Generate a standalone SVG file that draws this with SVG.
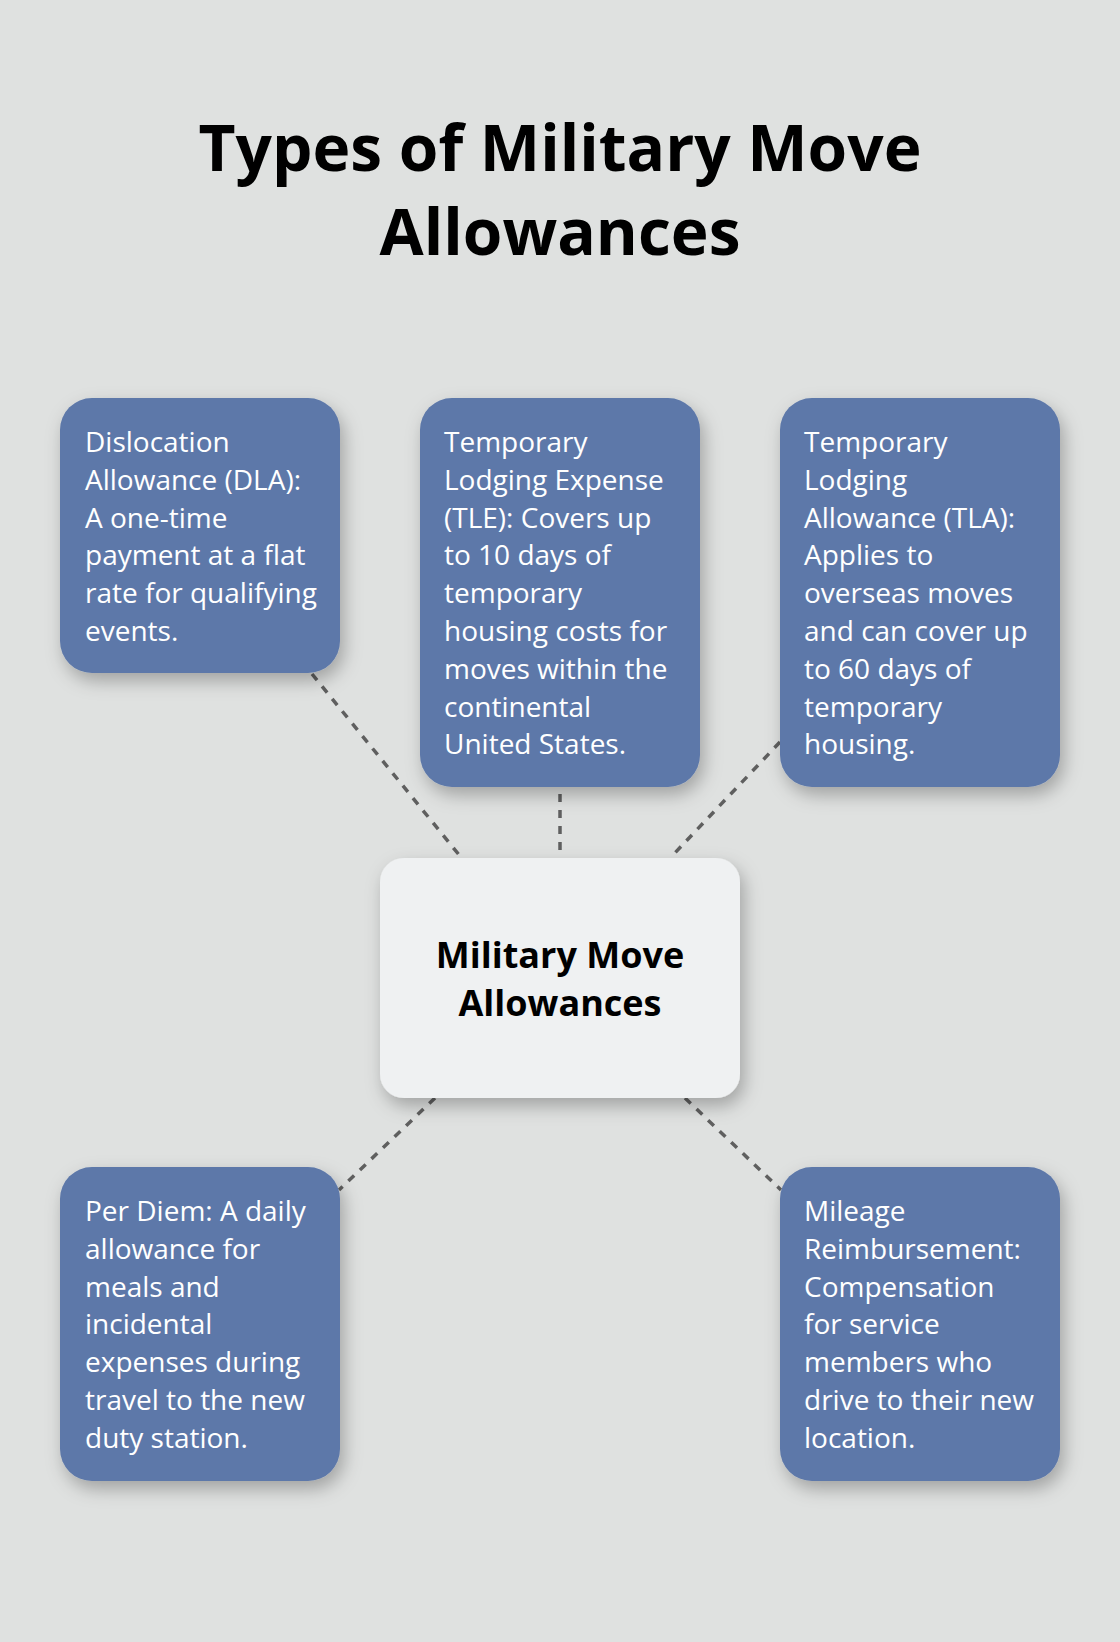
<svg xmlns="http://www.w3.org/2000/svg" width="1120" height="1642" viewBox="0 0 1120 1642">
  <defs>
    <filter id="shadow" x="-20%" y="-20%" width="140%" height="150%">
      <feDropShadow dx="4" dy="8" stdDeviation="9" flood-color="#000" flood-opacity="0.28"/>
    </filter>
    <style>
      .bg { fill: #dfe1e0; }
      .title { font-family: "Open Sans", "Noto Sans", sans-serif; font-weight: 700; font-size: 64px; fill: #000; text-anchor: middle; }
      .box { fill: #5d78a9; filter: url(#shadow); }
      .hub { fill: #eff1f2; filter: url(#shadow); }
      .txt { font-family: "Open Sans", "Noto Sans", sans-serif; font-size: 28px; fill: #ffffff; }
      .hubtxt { font-family: "Open Sans", "Noto Sans", sans-serif; font-weight: 700; font-size: 36px; fill: #000; text-anchor: middle; }
      .conn { stroke: #5f5f5f; stroke-width: 3.5; stroke-dasharray: 8 8; fill: none; }
    </style>
  </defs>
  <rect class="bg" x="0" y="0" width="1120" height="1642"/>

  <g id="title">
    <text class="title" x="560" y="171">Types of Military Move</text>
    <text class="title" x="560" y="255">Allowances</text>
  </g>

  <g id="connectors">
    <line class="conn" x1="312" y1="674" x2="460" y2="856"/>
    <line class="conn" x1="560" y1="794" x2="560" y2="856"/>
    <line class="conn" x1="780" y1="742" x2="672" y2="856"/>
    <line class="conn" x1="435" y1="1098" x2="339" y2="1190"/>
    <line class="conn" x1="685" y1="1098" x2="781" y2="1190"/>
  </g>

  <g id="node-dla">
    <rect class="box" x="60" y="398" width="280" height="275" rx="32" ry="32"/>
    <text class="txt">
      <tspan x="85" y="452">Dislocation</tspan>
      <tspan x="85" y="489.8">Allowance (DLA):</tspan>
      <tspan x="85" y="527.6">A one-time</tspan>
      <tspan x="85" y="565.4">payment at a flat</tspan>
      <tspan x="85" y="603.2">rate for qualifying</tspan>
      <tspan x="85" y="641">events.</tspan>
    </text>
  </g>

  <g id="node-tle">
    <rect class="box" x="420" y="398" width="280" height="389" rx="32" ry="32"/>
    <text class="txt">
      <tspan x="444" y="452">Temporary</tspan>
      <tspan x="444" y="489.8">Lodging Expense</tspan>
      <tspan x="444" y="527.6">(TLE): Covers up</tspan>
      <tspan x="444" y="565.4">to 10 days of</tspan>
      <tspan x="444" y="603.2">temporary</tspan>
      <tspan x="444" y="641">housing costs for</tspan>
      <tspan x="444" y="678.8">moves within the</tspan>
      <tspan x="444" y="716.6">continental</tspan>
      <tspan x="444" y="754.4">United States.</tspan>
    </text>
  </g>

  <g id="node-tla">
    <rect class="box" x="780" y="398" width="280" height="389" rx="32" ry="32"/>
    <text class="txt">
      <tspan x="804" y="452">Temporary</tspan>
      <tspan x="804" y="489.8">Lodging</tspan>
      <tspan x="804" y="527.6">Allowance (TLA):</tspan>
      <tspan x="804" y="565.4">Applies to</tspan>
      <tspan x="804" y="603.2">overseas moves</tspan>
      <tspan x="804" y="641">and can cover up</tspan>
      <tspan x="804" y="678.8">to 60 days of</tspan>
      <tspan x="804" y="716.6">temporary</tspan>
      <tspan x="804" y="754.4">housing.</tspan>
    </text>
  </g>

  <g id="node-center">
    <rect class="hub" x="380" y="858" width="360" height="240" rx="24" ry="24"/>
    <text class="hubtxt" x="560" y="968">Military Move</text>
    <text class="hubtxt" x="560" y="1016">Allowances</text>
  </g>

  <g id="node-perdiem">
    <rect class="box" x="60" y="1167" width="280" height="314" rx="32" ry="32"/>
    <text class="txt">
      <tspan x="85" y="1221">Per Diem: A daily</tspan>
      <tspan x="85" y="1258.8">allowance for</tspan>
      <tspan x="85" y="1296.6">meals and</tspan>
      <tspan x="85" y="1334.4">incidental</tspan>
      <tspan x="85" y="1372.2">expenses during</tspan>
      <tspan x="85" y="1410">travel to the new</tspan>
      <tspan x="85" y="1447.8">duty station.</tspan>
    </text>
  </g>

  <g id="node-mileage">
    <rect class="box" x="780" y="1167" width="280" height="314" rx="32" ry="32"/>
    <text class="txt">
      <tspan x="804" y="1221">Mileage</tspan>
      <tspan x="804" y="1258.8">Reimbursement:</tspan>
      <tspan x="804" y="1296.6">Compensation</tspan>
      <tspan x="804" y="1334.4">for service</tspan>
      <tspan x="804" y="1372.2">members who</tspan>
      <tspan x="804" y="1410">drive to their new</tspan>
      <tspan x="804" y="1447.8">location.</tspan>
    </text>
  </g>
</svg>
